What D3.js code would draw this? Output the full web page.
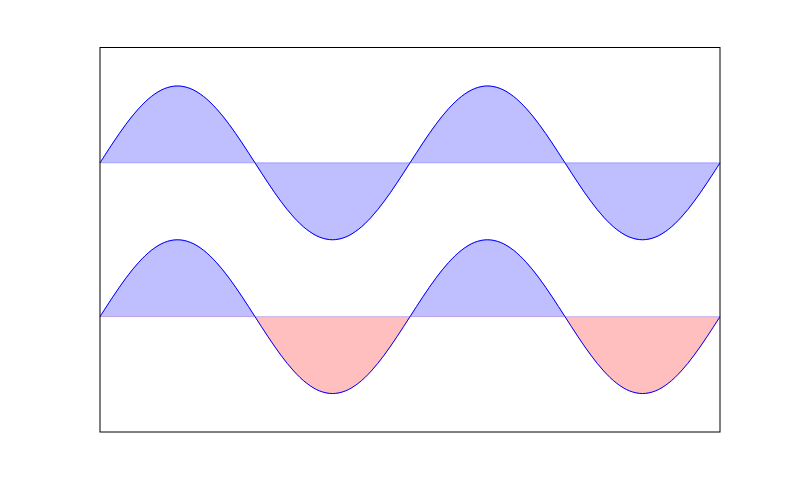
<!DOCTYPE html>
<html><head><meta charset="utf-8">
<script src="https://cdn.jsdelivr.net/npm/d3@7"></script>
<style>html,body{margin:0;padding:0;background:#fff;}svg{display:block;}</style>
</head><body>
<svg id="chart" width="800" height="480"></svg>
<script>
// x positions (two periods across 0..2)
const xValues = [0,0.0417,0.0833,0.125,0.1667,0.2083,0.25,0.2917,0.3333,0.375,0.4167,0.4583,0.5,0.5417,0.5833,0.625,0.6667,0.7083,0.75,0.7917,0.8333,0.875,0.9167,0.9583,1,1.0417,1.0833,1.125,1.1667,1.2083,1.25,1.2917,1.3333,1.375,1.4167,1.4583,1.5,1.5417,1.5833,1.625,1.6667,1.7083,1.75,1.7917,1.8333,1.875,1.9167,1.9583,2];
// wave values
const waveValues = [0,0.259,0.5,0.707,0.866,0.966,1,0.966,0.866,0.707,0.5,0.259,0,-0.259,-0.5,-0.707,-0.866,-0.966,-1,-0.966,-0.866,-0.707,-0.5,-0.259,0,0.259,0.5,0.707,0.866,0.966,1,0.966,0.866,0.707,0.5,0.259,0,-0.259,-0.5,-0.707,-0.866,-0.966,-1,-0.966,-0.866,-0.707,-0.5,-0.259,0];
const topOffset = 2;      // upper wave baseline
const bottomOffset = 0;   // lower wave baseline
const xDomain = [0, 2];
const yDomain = [-1.5, 3.5];

const svg = d3.select("#chart");
const L = 100, R = 720, T = 47.5, B = 432;
const x = d3.scaleLinear().domain(xDomain).range([L, R]);
const y = d3.scaleLinear().domain(yDomain).range([B, T]);

const blueFill = "#0000ff", redFill = "#ff0000", alpha = 0.25;

const topData = xValues.map((xv, i) => ({x: xv, y: waveValues[i] + topOffset}));
const botData = xValues.map((xv, i) => ({x: xv, y: waveValues[i] + bottomOffset}));

const curve = d3.curveCatmullRom.alpha(0.5);

const defs = svg.append("defs");
defs.append("clipPath").attr("id", "above")
  .append("rect").attr("x", L).attr("y", T).attr("width", R - L).attr("height", y(bottomOffset) - T);
defs.append("clipPath").attr("id", "below")
  .append("rect").attr("x", L).attr("y", y(bottomOffset)).attr("width", R - L).attr("height", B - y(bottomOffset));

function areaFor(base) {
  return d3.area().x(d => x(d.x)).y0(y(base)).y1(d => y(d.y)).curve(curve);
}

// upper wave: all blue
svg.append("path").datum(topData)
  .attr("d", areaFor(topOffset))
  .attr("fill", blueFill).attr("fill-opacity", alpha)
  .attr("stroke", blueFill).attr("stroke-opacity", alpha).attr("stroke-width", 1);

// lower wave: blue above baseline, red below
svg.append("path").datum(botData)
  .attr("d", areaFor(bottomOffset))
  .attr("clip-path", "url(#above)")
  .attr("fill", blueFill).attr("fill-opacity", alpha)
  .attr("stroke", blueFill).attr("stroke-opacity", alpha).attr("stroke-width", 1);
svg.append("path").datum(botData)
  .attr("d", areaFor(bottomOffset))
  .attr("clip-path", "url(#below)")
  .attr("fill", redFill).attr("fill-opacity", alpha)
  .attr("stroke", redFill).attr("stroke-opacity", alpha).attr("stroke-width", 1);

const line = d3.line().x(d => x(d.x)).y(d => y(d.y)).curve(curve);
svg.append("path").datum(topData).attr("d", line)
  .attr("fill", "none").attr("stroke", "#0000ff").attr("stroke-width", 1);
svg.append("path").datum(botData).attr("d", line)
  .attr("fill", "none").attr("stroke", "#0000ff").attr("stroke-width", 1);

// frame
svg.append("rect").attr("x", L).attr("y", T).attr("width", R - L).attr("height", B - T)
  .attr("fill", "none").attr("stroke", "#000").attr("stroke-width", 1);
</script>
</body></html>
